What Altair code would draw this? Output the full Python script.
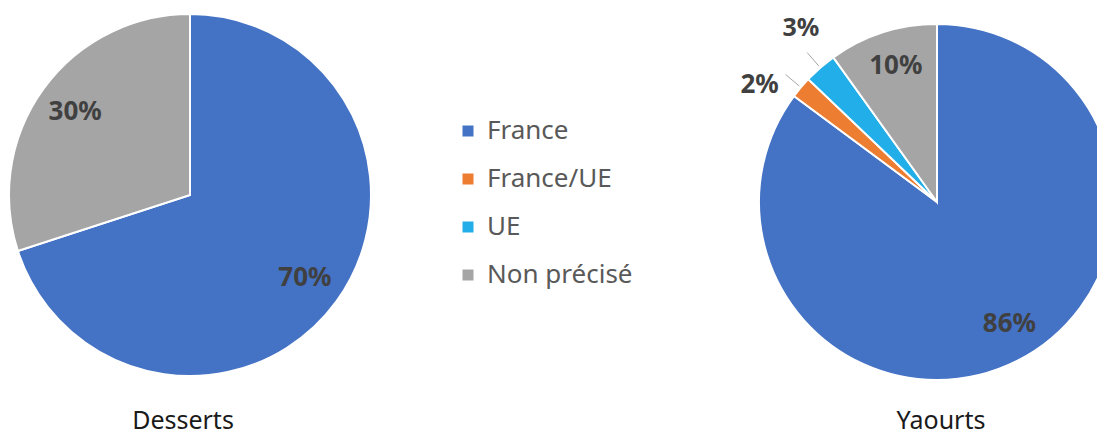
import altair as alt
import pandas as pd

categories = ["France", "France/UE", "UE", "Non précisé"]
colors = ["#4472C4", "#ED7D31", "#22AEE8", "#A5A5A5"]

desserts_cats = ["France", "Non précisé"]
desserts_vals = [70, 30]

yaourts_cats = ["France", "France/UE", "UE", "Non précisé"]
yaourts_vals = [86, 2, 3, 10]

titles = ["Desserts", "Yaourts"]

order_map = {c: i for i, c in enumerate(categories)}


def frame(cats, vals):
    df = pd.DataFrame({"cat": cats, "value": vals})
    df["order"] = df["cat"].map(order_map)
    df["label"] = df["value"].astype(str) + "%"
    return df


dd = frame(desserts_cats, desserts_vals)
dy = frame(yaourts_cats, yaourts_vals)

FONT = "Noto Sans"
LABEL_COLOR = "#404040"
LCX, LCY, LR = 182, 187, 181
RCX, RCY, RR = 929, 194, 178

color = alt.Color(
    "cat:N",
    scale=alt.Scale(domain=categories, range=colors),
    sort=categories,
    legend=alt.Legend(
        title=None, orient="none", legendX=447, legendY=110,
        symbolType="square", symbolSize=121, symbolStrokeWidth=0,
        labelFont=FONT, labelFontSize=26, labelColor="#595959",
        labelOffset=6, rowPadding=22, padding=0,
    ),
)


def pie(df, cx, cy, r):
    base = alt.Chart(df)
    arcs = base.mark_arc(outerRadius=r, stroke="white", strokeWidth=2).encode(
        theta=alt.Theta("value:Q", stack=True),
        order=alt.Order("order:Q"),
        color=color,
        x=alt.value(cx), y=alt.value(cy),
    )
    calc = base.transform_joinaggregate(total="sum(value)").transform_window(
        cum="sum(value)", sort=[alt.SortField("order")], frame=[None, 0]
    ).transform_calculate(
        mid="(datum.cum - datum.value/2) / datum.total * 2 * PI"
    )
    return arcs, calc


arcs_d, calc_d = pie(dd, LCX, LCY, LR)
arcs_y, calc_y = pie(dy, RCX, RCY, RR)

txt = dict(font=FONT, fontSize=26, fontWeight="bold", color=LABEL_COLOR,
           align="center", baseline="middle")


def ylabel(filt, radius, dx, dy_, size=26):
    t = dict(txt, fontSize=size)
    return calc_y.transform_filter(filt).mark_text(
        radius=radius, dx=dx, dy=dy_, **t).encode(
        theta=alt.Theta("mid:Q", scale=None), text="label:N",
        x=alt.value(RCX), y=alt.value(RCY),
    )


labels_d = calc_d.mark_text(radius=142, **txt).encode(
    theta=alt.Theta("mid:Q", scale=None), text="label:N",
    x=alt.value(LCX), y=alt.value(LCY),
)
labels_y_fr = ylabel("datum.cat == 'France'", 141, 9, -4)
labels_y_np = ylabel("datum.cat == 'Non précisé'", 141, 2, -2)
labels_y_2 = ylabel("datum.cat == 'France/UE'", 215, -13, 21)
labels_y_3 = ylabel("datum.cat == 'UE'", 215, 5, -12, 25)

leaders = calc_y.transform_filter("datum.value < 5").transform_calculate(
    x1=f"{RCX} + 180*sin(datum.mid)", y1=f"{RCY} - 180*cos(datum.mid)",
    x2=f"{RCX} + 198*sin(datum.mid)", y2=f"{RCY} - 198*cos(datum.mid)",
).mark_rule(color="#A6A6A6", strokeWidth=1).encode(
    x=alt.X("x1:Q", scale=None), x2="x2:Q",
    y=alt.Y("y1:Q", scale=None), y2="y2:Q",
)

tdf = pd.DataFrame({"t": titles, "i": [0, 1]})
ttl = dict(font=FONT, fontSize=25, color="#1a1a1a", align="center", baseline="alphabetic")
title_d = alt.Chart(tdf).transform_filter("datum.i == 0").mark_text(**ttl).encode(
    text="t:N", x=alt.value(175), y=alt.value(421))
title_y = alt.Chart(tdf).transform_filter("datum.i == 1").mark_text(**ttl).encode(
    text="t:N", x=alt.value(933), y=alt.value(421))

chart = alt.layer(
    arcs_d, arcs_y, leaders, labels_d, labels_y_fr, labels_y_np,
    labels_y_2, labels_y_3, title_d, title_y,
).resolve_scale(theta="independent").properties(
    width=1089, height=427,
    autosize=alt.AutoSizeParams(type="none"), padding=0,
).configure_view(stroke=None)

chart.save("out.html", embed_options={"renderer": "svg", "actions": False})
